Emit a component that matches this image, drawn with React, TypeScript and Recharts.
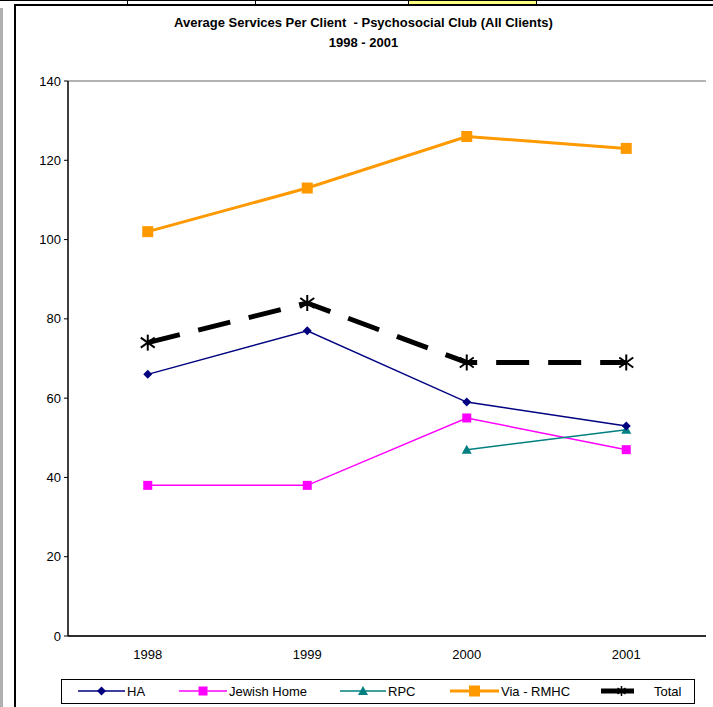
import React from 'react';
import { LineChart, Line, XAxis, YAxis, CartesianGrid } from 'recharts';

const years = ['1998', '1999', '2000', '2001'];
const haValues = [66, 77, 59, 53];
const jewishHomeValues = [38, 38, 55, 47];
const rpcValues: (number | null)[] = [null, null, 47, 52];
const viaValues = [102, 113, 126, 123];
const totalValues = [74, 84, 69, 69];
const yTicks = [0, 20, 40, 60, 80, 100, 120, 140];
const seriesNames = ['HA', 'Jewish Home', 'RPC', 'Via - RMHC', 'Total'];

const data = years.map((y, i) => ({
  year: y,
  ha: haValues[i],
  jh: jewishHomeValues[i],
  rpc: rpcValues[i],
  via: viaValues[i],
  total: totalValues[i],
}));

const FONT = 'Arial, "Liberation Sans", sans-serif';
const NAVY = '#000080';
const MAGENTA = '#FF00FF';
const TEAL = '#008080';
const ORANGE = '#FF9900';

const ok = (p: any) => p && p.cx != null && p.cy != null && p.value != null && !Number.isNaN(p.cy);

const Diamond = (p: any) => {
  if (!ok(p)) return <g key={p.key} />;
  const { cx, cy } = p;
  const r = 4.5;
  return <path key={p.key} d={`M${cx},${cy - r}L${cx + r},${cy}L${cx},${cy + r}L${cx - r},${cy}Z`} fill={NAVY} />;
};
const makeSquare = (color: string, s: number) => (p: any) => {
  if (!ok(p)) return <g key={p.key} />;
  return <rect key={p.key} x={p.cx - s / 2} y={p.cy - s / 2} width={s} height={s} fill={color} />;
};
const Triangle = (p: any) => {
  if (!ok(p)) return <g key={p.key} />;
  const { cx, cy } = p;
  return <path key={p.key} d={`M${cx},${cy - 5}L${cx + 5},${cy + 4}L${cx - 5},${cy + 4}Z`} fill={TEAL} />;
};
const Star = (p: any) => {
  if (!ok(p)) return <g key={p.key} />;
  const { cx, cy } = p;
  return (
    <g key={p.key} stroke="#000" strokeWidth={2}>
      <line x1={cx} y1={cy - 8} x2={cx} y2={cy + 8} />
      <line x1={cx - 7} y1={cy - 5} x2={cx + 7} y2={cy + 5} />
      <line x1={cx - 7} y1={cy + 5} x2={cx + 7} y2={cy - 5} />
    </g>
  );
};
const JhSquare = makeSquare(MAGENTA, 9);
const ViaSquare = makeSquare(ORANGE, 11);

const legendItems = [
  { name: seriesNames[0], x1: 78, x2: 125, tx: 127, color: NAVY, w: 1.5, mk: 'diamond' },
  { name: seriesNames[1], x1: 179, x2: 227, tx: 229, color: MAGENTA, w: 1.5, mk: 'square' },
  { name: seriesNames[2], x1: 340, x2: 386, tx: 388, color: TEAL, w: 1.5, mk: 'triangle' },
  { name: seriesNames[3], x1: 450, x2: 499, tx: 501, color: ORANGE, w: 3, mk: 'bigsquare' },
  { name: seriesNames[4], x1: 601, x2: 634, tx: 654, color: '#000', w: 5, mk: 'star' },
];

const Legendbox = () => {
  const cy = 691;
  return (
    <svg width={713} height={707} style={{ position: 'absolute', left: 0, top: 0, pointerEvents: 'none' }}>
      <rect x={61.5} y={679.5} width={633} height={24} fill="#fff" stroke="#000" strokeWidth={1} />
      {legendItems.map((it) => {
        const mx = (it.x1 + it.x2) / 2;
        let marker: any = null;
        if (it.mk === 'diamond') marker = <Diamond cx={mx} cy={cy} value={1} />;
        if (it.mk === 'square') marker = <JhSquare cx={mx} cy={cy} value={1} />;
        if (it.mk === 'triangle') marker = <Triangle cx={mx} cy={cy} value={1} />;
        if (it.mk === 'bigsquare') marker = <ViaSquare cx={mx} cy={cy} value={1} />;
        if (it.mk === 'star') {
          marker = (
            <g stroke="#000" strokeWidth={1.5}>
              <line x1={mx + 4} y1={cy - 5} x2={mx + 4} y2={cy + 5} />
              <line x1={mx} y1={cy - 3} x2={mx + 8} y2={cy + 3} />
              <line x1={mx} y1={cy + 3} x2={mx + 8} y2={cy - 3} />
            </g>
          );
        }
        return (
          <g key={it.name}>
            <line x1={it.x1} y1={cy} x2={it.x2} y2={cy} stroke={it.color} strokeWidth={it.w} />
            {marker}
            <text x={it.tx} y={cy + 4.5} fontFamily={FONT} fontSize={13} fill="#000">{it.name}</text>
          </g>
        );
      })}
    </svg>
  );
};

export default function App() {
  return (
    <div style={{ position: 'absolute', left: 0, top: 0, width: 713, height: 707, background: '#fff', overflow: 'hidden', fontFamily: FONT }}>
      <div style={{ position: 'absolute', left: 0, top: 0, width: 713, height: 1, background: '#000' }} />
      <div style={{ position: 'absolute', left: 127, top: 0, width: 1, height: 5, background: '#000' }} />
      <div style={{ position: 'absolute', left: 255, top: 0, width: 1, height: 5, background: '#000' }} />
      <div style={{ position: 'absolute', left: 408, top: 0, width: 129, height: 5, background: '#FFFF80', border: '1px solid #000', boxSizing: 'border-box' }} />
      <div style={{ position: 'absolute', left: 0, top: 8, width: 3, height: 699, background: '#b0b0b0' }} />
      <div style={{ position: 'absolute', left: 14, top: 4, width: 720, height: 720, border: '2px solid #000', boxSizing: 'border-box' }} />
      <div style={{ position: 'absolute', left: 16, top: 13, width: 695, textAlign: 'center', fontSize: 13, fontWeight: 'bold', lineHeight: '20px', color: '#000' }}>
        <div>Average Services Per Client&nbsp; - Psychosocial Club (All Clients)</div>
        <div>1998 - 2001</div>
      </div>
      <div style={{ position: 'absolute', left: 0, top: 0 }}>
        <LineChart width={713} height={707} data={data} margin={{ top: 81, right: 7, left: 0, bottom: 41 }}>
          <CartesianGrid vertical={false} stroke="#666" strokeWidth={1} />
          <XAxis
            xAxisId="cat"
            dataKey="year"
            padding={{ left: 79.75, right: 79.75 }}
            axisLine={{ stroke: '#000', strokeWidth: 1.5 }}
            tickLine={false}
            tickSize={8}
            tickMargin={6}
            height={30}
            tick={{ fontSize: 13, fontFamily: FONT, fill: '#000' }}
          />
          <YAxis
            yAxisId="left"
            domain={[0, 140]}
            ticks={yTicks}
            width={68}
            axisLine={{ stroke: '#000', strokeWidth: 1.5 }}
            tickLine={{ stroke: '#000' }}
            tickSize={4}
            tickMargin={3}
            interval={0}
            tick={{ fontSize: 13, fontFamily: FONT, fill: '#000' }}
          />
          <YAxis
            yAxisId="right"
            orientation="right"
            domain={[0, 140]}
            width={0}
            tick={false}
            tickLine={false}
            axisLine={{ stroke: '#808080', strokeWidth: 1.5 }}
          />
          <Line xAxisId="cat" yAxisId="left" dataKey="jh" stroke={MAGENTA} strokeWidth={1.5} dot={JhSquare} isAnimationActive={false} />
          <Line xAxisId="cat" yAxisId="left" dataKey="rpc" stroke={TEAL} strokeWidth={1.5} dot={Triangle} isAnimationActive={false} />
          <Line xAxisId="cat" yAxisId="left" dataKey="ha" stroke={NAVY} strokeWidth={1.5} dot={Diamond} isAnimationActive={false} />
          <Line xAxisId="cat" yAxisId="left" dataKey="via" stroke={ORANGE} strokeWidth={3} dot={ViaSquare} isAnimationActive={false} />
          <Line xAxisId="cat" yAxisId="left" dataKey="total" stroke="#000" strokeWidth={5} strokeDasharray="33 19" dot={Star} isAnimationActive={false} />
        </LineChart>
      </div>
      <Legendbox />
    </div>
  );
}
